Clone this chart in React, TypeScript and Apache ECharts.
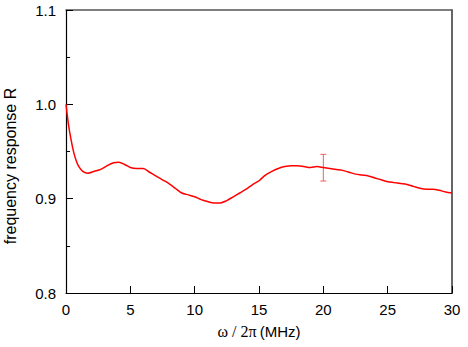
import React, { useEffect, useRef } from "react";
import * as echarts from "echarts";

const freqMHz = [0, 0.2, 0.4, 0.6, 0.8, 1.0, 1.3, 1.7, 2.2, 2.7, 3.2, 3.7, 4.1, 4.6, 5.0, 5.5, 6.0, 6.5, 7.0, 7.5, 8.0, 8.5, 9.0, 9.5, 10.0, 10.5, 11.0, 11.5, 12.0, 12.5, 13.0, 13.5, 14.0, 14.5, 15.0, 15.5, 16.0, 16.5, 17.0, 17.5, 18.0, 18.5, 19.0, 19.5, 20.0, 20.5, 21.0, 21.5, 22.0, 22.5, 23.0, 23.5, 24.0, 24.5, 25.0, 25.5, 26.0, 26.5, 27.0, 27.5, 28.0, 28.5, 29.0, 29.5, 30.0];
const response = [1.0, 0.978, 0.962, 0.949, 0.94, 0.934, 0.929, 0.927, 0.929, 0.931, 0.935, 0.938, 0.9385, 0.936, 0.933, 0.932, 0.932, 0.928, 0.924, 0.92, 0.916, 0.911, 0.906, 0.904, 0.902, 0.899, 0.897, 0.8955, 0.8955, 0.898, 0.902, 0.906, 0.91, 0.915, 0.919, 0.925, 0.929, 0.932, 0.934, 0.935, 0.935, 0.934, 0.933, 0.934, 0.933, 0.932, 0.931, 0.93, 0.928, 0.926, 0.925, 0.924, 0.922, 0.92, 0.918, 0.917, 0.916, 0.915, 0.913, 0.911, 0.91, 0.91, 0.909, 0.907, 0.906];
const errX = [20];
const errLow = [0.9187];
const errHigh = [0.947];

export default function App() {
  const ref = useRef<HTMLDivElement>(null);
  useEffect(() => {
    if (!ref.current) return;
    const chart = echarts.init(ref.current, null, { renderer: "svg" });
    const font = "Liberation Sans, Arial, sans-serif";
    chart.setOption({
      animation: false,
      grid: { left: 66, right: 16, top: 10, bottom: 54 },
      graphic: [
        {
          type: "text",
          x: 2,
          y: 166,
          rotation: Math.PI / 2,
          style: {
            text: "frequency response R",
            fontFamily: font,
            fontSize: 16,
            fill: "#000",
            align: "center",
            verticalAlign: "top",
          },
        },
      ],
      xAxis: [
        {
          type: "value",
          min: 0,
          max: 30,
          interval: 5,
          name: "{s|ω / 2π} {a|(MHz)}",
          nameLocation: "middle",
          nameGap: 30,
          nameTextStyle: {
            color: "#000",
            rich: {
              s: { fontFamily: "Liberation Serif, Times New Roman, serif", fontSize: 16, color: "#000" },
              a: { fontFamily: font, fontSize: 15, color: "#000" },
            },
          },
          axisLine: { show: true, onZero: false, lineStyle: { color: "#000", width: 1.2 } },
          axisTick: { show: true, inside: true, length: 7, lineStyle: { color: "#000" } },
          axisLabel: { fontFamily: font, fontSize: 15, color: "#000", margin: 9 },
          splitLine: { show: false },
        },
        {
          type: "value",
          position: "top",
          min: 0,
          max: 30,
          interval: 5,
          axisLine: { show: true, onZero: false, lineStyle: { color: "#555", width: 1.5 } },
          axisTick: { show: false },
          axisLabel: { show: false },
          splitLine: { show: false },
        },
      ],
      yAxis: [
        {
          type: "value",
          min: 0.8,
          max: 1.1,
          interval: 0.1,
          axisLine: { show: true, onZero: false, lineStyle: { color: "#000", width: 1.2 } },
          axisTick: { show: true, inside: true, length: 7, lineStyle: { color: "#000" } },
          minorTick: { show: true, splitNumber: 2, length: 4, lineStyle: { color: "#000" } },
          axisLabel: { fontFamily: font, fontSize: 15, color: "#000", margin: 10, formatter: (v: number) => v.toFixed(1) },
          splitLine: { show: false },
        },
        {
          type: "value",
          position: "right",
          min: 0.8,
          max: 1.1,
          interval: 0.1,
          axisLine: { show: true, onZero: false, lineStyle: { color: "#333", width: 1.5 } },
          axisTick: { show: false },
          axisLabel: { show: false },
          splitLine: { show: false },
        },
      ],
      series: [
        {
          type: "line",
          data: freqMHz.map((x, i) => [x, response[i]]),
          showSymbol: false,
          smooth: 0.3,
          lineStyle: { color: "#ff0000", width: 1.5 },
        },
        {
          type: "custom",
          data: errX.map((x, i) => [x, errLow[i], errHigh[i]]),
          renderItem: (params: any, api: any) => {
            const lo = api.coord([api.value(0), api.value(1)]);
            const hi = api.coord([api.value(0), api.value(2)]);
            const w = 3;
            const style = { stroke: "#f06060", lineWidth: 1 };
            return {
              type: "group",
              children: [
                { type: "line", shape: { x1: lo[0], y1: lo[1], x2: hi[0], y2: hi[1] }, style },
                { type: "line", shape: { x1: lo[0] - w, y1: lo[1], x2: lo[0] + w, y2: lo[1] }, style },
                { type: "line", shape: { x1: hi[0] - w, y1: hi[1], x2: hi[0] + w, y2: hi[1] }, style },
              ],
            };
          },
        },
      ],
    });
    return () => chart.dispose();
  }, []);
  return <div ref={ref} style={{ width: 468, height: 347, position: "absolute", left: 0, top: 0 }} />;
}
